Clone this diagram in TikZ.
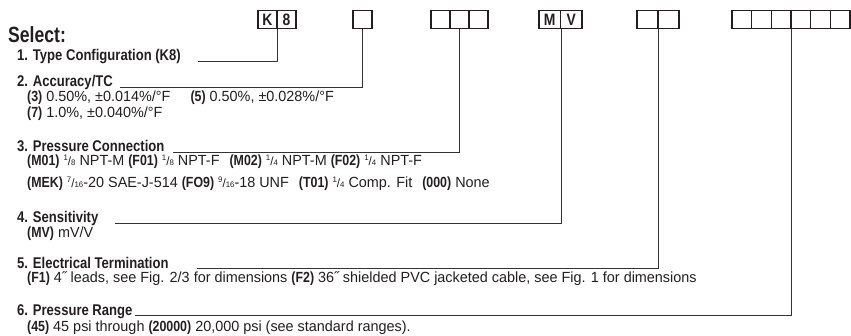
\documentclass[tikz,border=0pt]{standalone}
\usepackage{fontspec}
\setmainfont{Liberation Sans}
\newfontfamily\hb{Liberation Sans}[FakeStretch=0.843]
\newfontfamily\selfont{Liberation Sans}[FakeStretch=0.80]
\newfontfamily\rg{Liberation Sans}[FakeStretch=0.98]
\definecolor{ink}{HTML}{231F20}
\definecolor{rule}{HTML}{333333}
\newcommand\bk[1]{{\hb\bfseries #1}}
\newcommand\frc[2]{\raisebox{0.55ex}{\fontsize{8}{8}\selectfont #1}{\fontsize{12}{12}\selectfont /}\raisebox{-0.1ex}{\fontsize{8}{8}\selectfont #2}}
\begin{document}
\begin{tikzpicture}[x=1pt,y=-1pt,
  hdr/.style={anchor=base west, inner sep=0pt, text=ink, font=\hb\bfseries\fontsize{15.5}{15.5}\selectfont},
  sub/.style={anchor=base west, inner sep=0pt, text=ink, font=\rg\fontsize{14.7}{15}\selectfont},
  cell/.style={draw=ink, line width=1.2pt, minimum height=18pt, inner sep=0pt, text=ink,
    font=\hb\bfseries\fontsize{16.5}{16.5}\selectfont},
  conn/.style={draw=rule, line width=1pt}]
\useasboundingbox (0,0) rectangle (851,335);
% code boxes
\node[cell, minimum width=19pt] (k1) at (267.5,19.5) {K};
\node[cell, minimum width=19pt] (k2) at (286.5,19.5) {8};
\node[cell, minimum width=19pt] (b2) at (362.5,19.5) {};
\node[cell, minimum width=19pt] (c1) at (440.5,19.5) {};
\node[cell, minimum width=19pt] (c2) at (459.5,19.5) {};
\node[cell, minimum width=19pt] (c3) at (478.5,19.5) {};
\node[cell, minimum width=21.5pt] (m1) at (549.75,19.5) {M};
\node[cell, minimum width=21.5pt] (m2) at (571.25,19.5) {V};
\node[cell, minimum width=21pt] (e1) at (647.5,19.5) {};
\node[cell, minimum width=21pt] (e2) at (668.5,19.5) {};
\node[cell, minimum width=19.67pt] (r1) at (741.8,19.5) {};
\node[cell, minimum width=19.67pt] (r2) at (761.5,19.5) {};
\node[cell, minimum width=19.67pt] (r3) at (781.2,19.5) {};
\node[cell, minimum width=19.67pt] (r4) at (800.8,19.5) {};
\node[cell, minimum width=19.67pt] (r5) at (820.5,19.5) {};
\node[cell, minimum width=19.67pt] (r6) at (840.2,19.5) {};
% texts
\node[hdr, font=\selfont\bfseries\fontsize{22}{22}\selectfont] (sel) at (8,42) {Select:};
\node[hdr] (h1) at (17,60) {1. Type Configuration (K8)};
\node[hdr] (h2) at (17,86) {2. Accuracy/TC};
\node[sub] (s2a) at (27,101) {\bk{(3)} 0.50\%, ±0.014\%/°F\hspace{20pt}\bk{(5)} 0.50\%, ±0.028\%/°F};
\node[sub] (s2b) at (27,117) {\bk{(7)} 1.0\%, ±0.040\%/°F};
\node[hdr] (h3) at (17,151) {3. Pressure Connection};
\node[sub] (s3a) at (27,165) {\bk{(M01)} \frc18 NPT-M \bk{(F01)} \frc18 NPT-F\hspace{10pt}\bk{(M02)} \frc14 NPT-M \bk{(F02)} \frc14 NPT-F};
\node[sub] (s3b) at (27,187) {\bk{(MEK)} \frc7{16}-20 SAE-J-514 \bk{(FO9)} \frc9{16}-18 UNF\hspace{10pt}\bk{(T01)} \frc14 Comp. Fit\hspace{10pt}\bk{(000)} None};
\node[hdr] (h4) at (17,222.5) {4. Sensitivity};
\node[sub] (s4) at (27,237) {\bk{(MV)} mV/V};
\node[hdr] (h5) at (17,268) {5. Electrical Termination};
\node[sub] (s5) at (27,282) {\bk{(F1)} 4˝ leads, see Fig. 2/3 for dimensions \bk{(F2)} 36˝ shielded PVC jacketed cable, see Fig. 1 for dimensions};
\node[hdr] (h6) at (17,315) {6. Pressure Range};
\node[sub] (s6) at (27,331) {\bk{(45)} 45 psi through \bk{(20000)} 20,000 psi (see standard ranges).};
% connectors
\coordinate (l1) at (198,61);
\coordinate (l2) at (120,87);
\coordinate (l3) at (173,152);
\coordinate (l4) at (115,223);
\coordinate (l5) at (197,268);
\coordinate (l6) at (135,315);
\draw[conn] (l1) -| (k1.south east);
\draw[conn] (l2) -| (b2.south);
\draw[conn] (l3) -| (c2.south);
\draw[conn] (l4) -| (m1.south east);
\draw[conn] (l5) -| (e1.south east);
\draw[conn] (l6) -| (r3.south east);
\end{tikzpicture}
\end{document}
